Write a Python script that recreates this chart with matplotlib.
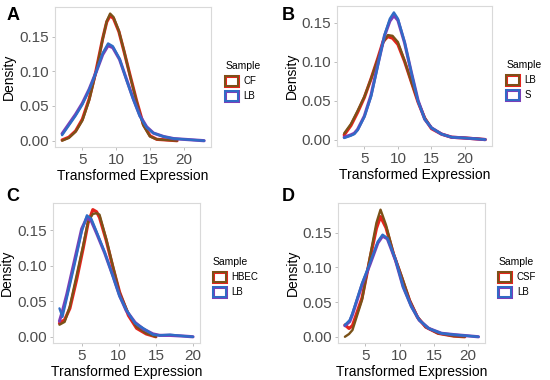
import matplotlib
matplotlib.use("Agg")
import matplotlib.pyplot as plt
from matplotlib.patches import Patch
from matplotlib.legend_handler import HandlerTuple

plt.rcParams["font.family"] = ["Liberation Sans", "DejaVu Sans"]

# colours for the two replicates of each sample
RED, BROWN = "#e3241c", "#7a5218"
PURPLE, BLUE = "#7a3fb8", "#2f6cc6"

# ---- panel A: CF vs LB ----
a_x_cf = [2, 3, 4, 5, 6, 7, 8, 8.6, 9.1, 9.6, 10.4, 11.2, 12, 13, 14, 15, 16, 17.5, 19]
a_cf_1 = [0.000, 0.004, 0.013, 0.029, 0.058, 0.098, 0.146, 0.172, 0.183, 0.178,
          0.158, 0.128, 0.095, 0.057, 0.022, 0.006, 0.002, 0.001, 0.000]
a_cf_2 = [0.001, 0.005, 0.014, 0.031, 0.060, 0.100, 0.147, 0.171, 0.180, 0.176,
          0.157, 0.127, 0.096, 0.058, 0.024, 0.007, 0.002, 0.001, 0.000]
a_x_lb = [2, 3, 4, 5, 6, 7, 8, 8.8, 9.5, 10.5, 11.5, 12.5, 13.5, 14.5, 15.5, 17, 18.5, 20, 21.5, 23]
a_lb_1 = [0.008, 0.022, 0.036, 0.052, 0.073, 0.098, 0.126, 0.140, 0.136, 0.118,
          0.088, 0.060, 0.035, 0.019, 0.011, 0.006, 0.003, 0.002, 0.001, 0.000]
a_lb_2 = [0.010, 0.024, 0.038, 0.054, 0.074, 0.098, 0.124, 0.137, 0.134, 0.117,
          0.089, 0.061, 0.036, 0.020, 0.011, 0.006, 0.003, 0.002, 0.001, 0.000]

# ---- panel B: LB vs S ----
b_x_lb = [2, 3, 4, 5, 6, 7, 7.8, 8.5, 9.2, 10, 11, 12, 13, 14, 15, 16.5, 18, 20, 21.5, 23]
b_lb_1 = [0.008, 0.020, 0.037, 0.055, 0.078, 0.103, 0.124, 0.134, 0.133, 0.125,
          0.101, 0.074, 0.049, 0.028, 0.015, 0.007, 0.003, 0.002, 0.0015, 0.000]
b_lb_2 = [0.006, 0.018, 0.035, 0.054, 0.078, 0.104, 0.126, 0.132, 0.130, 0.122,
          0.100, 0.074, 0.048, 0.027, 0.014, 0.007, 0.003, 0.002, 0.001, 0.000]
b_x_s = [2, 3, 3.5, 4, 5, 6, 7, 8, 8.8, 9.4, 10, 11, 12, 13, 14, 15, 16.5, 18, 20, 21.5, 23]
b_s_1 = [0.002, 0.005, 0.007, 0.012, 0.029, 0.055, 0.094, 0.134, 0.155, 0.163, 0.155,
         0.125, 0.086, 0.049, 0.026, 0.015, 0.007, 0.003, 0.002, 0.001, 0.000]
b_s_2 = [0.003, 0.006, 0.008, 0.013, 0.030, 0.057, 0.096, 0.133, 0.152, 0.159, 0.153,
         0.124, 0.086, 0.050, 0.026, 0.015, 0.007, 0.003, 0.002, 0.001, 0.000]

# ---- panel C: HBEC vs LB ----
c_x_hbec = [2, 2.7, 3.4, 4.3, 5.2, 5.85, 6.5, 7, 7.4, 8.3, 9.2, 10.1, 11.3, 12.4, 13.7, 15]
c_hbec_1 = [0.017, 0.021, 0.043, 0.086, 0.129, 0.162, 0.173, 0.174, 0.172, 0.138,
            0.100, 0.062, 0.033, 0.014, 0.005, 0.000]
c_hbec_2 = [0.019, 0.024, 0.040, 0.080, 0.125, 0.160, 0.179, 0.176, 0.168, 0.136,
            0.098, 0.063, 0.030, 0.012, 0.004, 0.000]
c_x_lb = [2, 2.4, 3, 4, 5, 5.7, 6.3, 7, 8.1, 9.2, 10.1, 11, 12.2, 13.3, 14.6, 15.5, 16.9, 18.7, 20]
c_lb_1 = [0.040, 0.028, 0.055, 0.100, 0.148, 0.171, 0.166, 0.148, 0.119, 0.085,
          0.057, 0.038, 0.019, 0.012, 0.003, 0.002, 0.003, 0.001, 0.000]
c_lb_2 = [0.022, 0.036, 0.060, 0.106, 0.152, 0.168, 0.163, 0.146, 0.118, 0.086,
          0.058, 0.037, 0.020, 0.011, 0.004, 0.002, 0.002, 0.001, 0.000]

# ---- panel D: CSF vs LB ----
d_x_csf = [2, 2.6, 3.1, 4.5, 5.65, 6.6, 7.2, 8, 9.1, 10.3, 11.45, 12.6, 13.8, 15.6, 17.9, 19.5]
d_csf_1 = [0.000, 0.004, 0.0097, 0.053, 0.115, 0.164, 0.183, 0.161, 0.120, 0.087,
           0.053, 0.029, 0.014, 0.005, 0.001, 0.000]
d_csf_2 = [0.017, 0.012, 0.016, 0.056, 0.112, 0.156, 0.173, 0.157, 0.119, 0.085,
           0.052, 0.028, 0.014, 0.005, 0.001, 0.000]
d_x_lb = [2, 2.7, 3.1, 4.5, 5.65, 6.8, 7.5, 8.2, 9.4, 10.5, 11.7, 12.85, 14.25, 16.1, 18, 19.8, 21.5]
d_lb_1 = [0.017, 0.024, 0.034, 0.077, 0.106, 0.137, 0.147, 0.142, 0.111, 0.072,
          0.043, 0.024, 0.012, 0.005, 0.003, 0.0015, 0.000]
d_lb_2 = [0.016, 0.022, 0.032, 0.075, 0.104, 0.135, 0.145, 0.141, 0.110, 0.072,
          0.044, 0.024, 0.012, 0.005, 0.003, 0.0015, 0.000]

panels = [
    ("A", [0.100, 0.613, 0.284, 0.368], (0.012, 0.958),
     (a_x_cf, a_cf_1, a_cf_2, "CF"), (a_x_lb, a_lb_1, a_lb_2, "LB")),
    ("B", [0.613, 0.616, 0.282, 0.368], (0.512, 0.958),
     (b_x_lb, b_lb_1, b_lb_2, "LB"), (b_x_s, b_s_1, b_s_2, "S")),
    ("C", [0.096, 0.097, 0.267, 0.368], (0.012, 0.482),
     (c_x_hbec, c_hbec_1, c_hbec_2, "HBEC"), (c_x_lb, c_lb_1, c_lb_2, "LB")),
    ("D", [0.615, 0.097, 0.267, 0.368], (0.512, 0.482),
     (d_x_csf, d_csf_1, d_csf_2, "CSF"), (d_x_lb, d_lb_1, d_lb_2, "LB")),
]

fig = plt.figure(figsize=(5.5, 3.8), dpi=100)

for letter, rect, lpos, first, second in panels:
    ax = fig.add_axes(rect)
    x1, y1a, y1b, lab1 = first
    x2, y2a, y2b, lab2 = second

    ax.plot(x1, y1b, color=RED, lw=2.3, solid_capstyle="round")
    ax.plot(x1, y1a, color=BROWN, lw=1.7, solid_capstyle="round")
    ax.plot(x2, y2b, color=PURPLE, lw=2.3, solid_capstyle="round")
    ax.plot(x2, y2a, color=BLUE, lw=1.7, solid_capstyle="round")

    ax.margins(x=0.05, y=0.05)
    ax.set_xticks([5, 10, 15, 20])
    ax.set_yticks([0, 0.05, 0.10, 0.15])
    ax.set_yticklabels(["0.00", "0.05", "0.10", "0.15"])
    ax.tick_params(labelsize=11, labelcolor="#4d4d4d", color="#b3b3b3",
                   length=2.5, width=0.6, pad=2)
    for s in ax.spines.values():
        s.set_color("#d9d9d9")
        s.set_linewidth(0.8)
    ax.set_xlabel("Transformed Expression", fontsize=10, labelpad=1)
    ax.set_ylabel("Density", fontsize=10, labelpad=2)

    h1 = (Patch(facecolor="white", edgecolor=RED, lw=2.2),
          Patch(facecolor="none", edgecolor=BROWN, lw=1.4))
    h2 = (Patch(facecolor="white", edgecolor=PURPLE, lw=2.2),
          Patch(facecolor="none", edgecolor=BLUE, lw=1.4))
    leg = ax.legend([h1, h2], [lab1, lab2], title="Sample",
                    handler_map={tuple: HandlerTuple(ndivide=1, pad=0)},
                    loc="center left", bbox_to_anchor=(1.09, 0.47),
                    frameon=False, fontsize=7, title_fontsize=7.5,
                    handlelength=1.3, handleheight=1.3, handletextpad=0.6,
                    labelspacing=0.45, borderaxespad=0, borderpad=0)
    leg._legend_box.align = "left"

    fig.text(lpos[0], lpos[1], letter, fontsize=13,
             fontweight="bold", va="center", ha="left")

fig.savefig("out.png", dpi=100)
